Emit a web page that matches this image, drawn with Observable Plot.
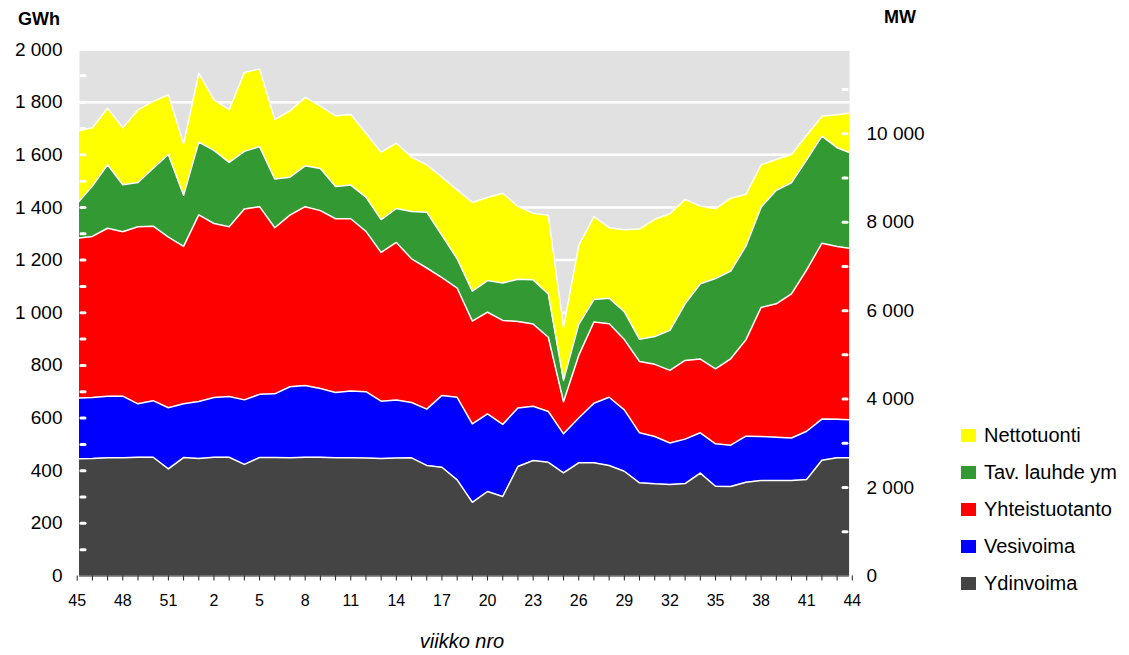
<!DOCTYPE html>
<html>
<head>
<meta charset="utf-8">
<script src="https://cdn.jsdelivr.net/npm/d3@7"></script>
<script src="https://cdn.jsdelivr.net/npm/@observablehq/plot@0.6"></script>
<style>
  html, body { margin: 0; padding: 0; background: #fff; }
  #wrap { position: relative; width: 1129px; height: 655px; font-family: "Liberation Sans", Arial, sans-serif; color: #000; }
  #chart { position: absolute; left: 0; top: 0; }
  .unit { position: absolute; font-weight: bold; font-size: 18px; }
  #xlab { position: absolute; left: 0; width: 924px; text-align: center; top: 630px; font-style: italic; font-size: 20px; }
  #legend { position: absolute; left: 961px; top: 417px; }
  .item { display: flex; align-items: center; height: 37px; font-size: 20px; white-space: nowrap; }
  .sw { width: 15px; height: 13px; margin-right: 8px; }
</style>
</head>
<body>
<div id="wrap">
  <div id="chart"></div>
  <div class="unit" style="left:18px; top:9px;">GWh</div>
  <div class="unit" style="left:884px; top:7px;">MW</div>
  <div id="xlab">viikko nro</div>
  <div id="legend"></div>
</div>
<script>
// Week numbers (x categories)
const weeks = [45,46,47,48,49,50,51,52,1,2,3,4,5,6,7,8,9,10,11,12,13,14,15,16,17,18,19,20,21,22,23,24,25,26,27,28,29,30,31,32,33,34,35,36,37,38,39,40,41,42,43,44];

// Series (GWh per week), bottom to top
const ydinvoima = [445,446,449,449,451,451,407,450,446,451,451,424,450,450,449,451,451,449,449,448,446,448,449,420,413,365,280,321,302,416,439,432,392,430,430,420,398,354,350,348,351,391,341,340,356,363,363,363,367,440,449,449];
const vesivoima = [231,232,234,234,203,215,232,204,217,227,231,245,240,242,270,273,261,248,254,252,218,221,210,214,273,314,298,295,274,222,206,193,148,170,226,259,233,190,180,157,169,153,161,157,175,167,164,161,183,156,146,144];
const yhteistuotanto = [607,612,638,625,673,663,648,598,709,661,645,725,713,631,652,679,676,660,654,609,565,598,546,536,447,415,390,386,395,329,312,282,122,238,309,279,267,271,274,276,299,280,285,328,366,490,507,548,613,668,657,650];
const tavLauhde = [132,191,241,178,168,220,314,194,276,278,244,219,228,185,144,155,160,123,128,130,125,129,180,212,161,111,114,120,142,160,168,164,81,118,85,97,106,84,106,152,215,286,343,333,356,381,431,422,418,407,375,361];
const nettotuonti = [275,222,215,217,276,254,227,196,262,192,201,300,295,226,252,260,237,268,268,243,256,248,206,180,221,262,337,316,341,277,253,299,202,300,315,268,311,419,445,443,396,295,265,277,197,161,117,107,93,75,125,156];

const seriesNames = ["Ydinvoima", "Vesivoima", "Yhteistuotanto", "Tav. lauhde ym", "Nettotuonti"];
const seriesColors = ["#444444", "#0000ff", "#ff0000", "#339933", "#ffff00"];
const seriesValues = [ydinvoima, vesivoima, yhteistuotanto, tavLauhde, nettotuonti];

// Axis ticks
const gwhTicks = [0,200,400,600,800,1000,1200,1400,1600,1800,2000];
const gwhMinor = d3.range(0, 2001, 100);
const mwTicks = [0,2000,4000,6000,8000,10000];
const mwMinor = d3.range(0, 11001, 1000);
const GWH_PER_MW = 0.168; // 168 h per week / 1000

const data = [];
seriesNames.forEach((s, k) => {
  seriesValues[k].forEach((v, i) => data.push({i, week: weeks[i], series: s, value: v}));
});

const fmt = v => d3.format(",")(v).replace(/,/g, " ");

const W = 1129, ML = 79, MR = 280;
const frameW = W - ML - MR;

const chart = Plot.plot({
  width: W,
  height: 655,
  marginLeft: ML,
  marginRight: MR,
  marginTop: 50,
  marginBottom: 79.5,
  style: {fontFamily: "'Liberation Sans', Arial, sans-serif", background: "transparent", color: "#000"},
  x: {domain: [0, weeks.length - 1], range: [76.7, 851.8]},
  y: {domain: [0, 2000], range: [575.5, 49]},
  color: {domain: seriesNames, range: seriesColors},
  marks: [
    Plot.frame({fill: "#e1e1e1", stroke: null}),
    Plot.gridY(gwhTicks.filter(d => d > 0), {stroke: "white", strokeOpacity: 1, strokeWidth: 2.5}),
    Plot.areaY(data, {x: "i", y: "value", fill: "series", order: seriesNames, clip: true}),
    Plot.lineY(data, Plot.stackY2({x: "i", y: "value", z: "series", order: seriesNames, stroke: "white", strokeWidth: 1.5, clip: true})),
    Plot.ruleY([0], {stroke: "#222", strokeWidth: 1}),
    // inner white minor ticks, left (GWh) and right (MW)
    Plot.ruleY(gwhMinor.filter(d => d > 0), {y: d => d, stroke: "white", strokeWidth: 3, strokeLinecap: "round", insetLeft: 2, insetRight: frameW - 6}),
    Plot.ruleY(mwMinor.filter(d => d > 0), {y: d => d * GWH_PER_MW, stroke: "white", strokeWidth: 3, strokeLinecap: "round", insetLeft: frameW - 6, insetRight: 2}),
    Plot.axisX({ticks: d3.range(weeks.length), tickSize: 5, tickPadding: 14, stroke: "#222",
      tickFormat: i => (i % 3 === 0 ? String(weeks[i]) : ""), fontSize: 16, label: null}),
    Plot.axisY({anchor: "left", ticks: gwhTicks, tickSize: 0, tickPadding: 17, tickFormat: fmt, fontSize: 19, label: null}),
    Plot.axisY({anchor: "right", ticks: mwTicks.map(m => m * GWH_PER_MW), tickSize: 0, tickPadding: 17,
      tickFormat: d => fmt(Math.round(d / GWH_PER_MW)), fontSize: 19, label: null})
  ]
});
document.getElementById("chart").appendChild(chart);

// Legend (top to bottom: reverse stacking order)
const legend = document.getElementById("legend");
seriesNames.slice().reverse().forEach(s => {
  const k = seriesNames.indexOf(s);
  const row = document.createElement("div");
  row.className = "item";
  const sw = document.createElement("div");
  sw.className = "sw";
  sw.style.background = seriesColors[k];
  const t = document.createElement("span");
  t.textContent = s;
  row.appendChild(sw);
  row.appendChild(t);
  legend.appendChild(row);
});
</script>
</body>
</html>
